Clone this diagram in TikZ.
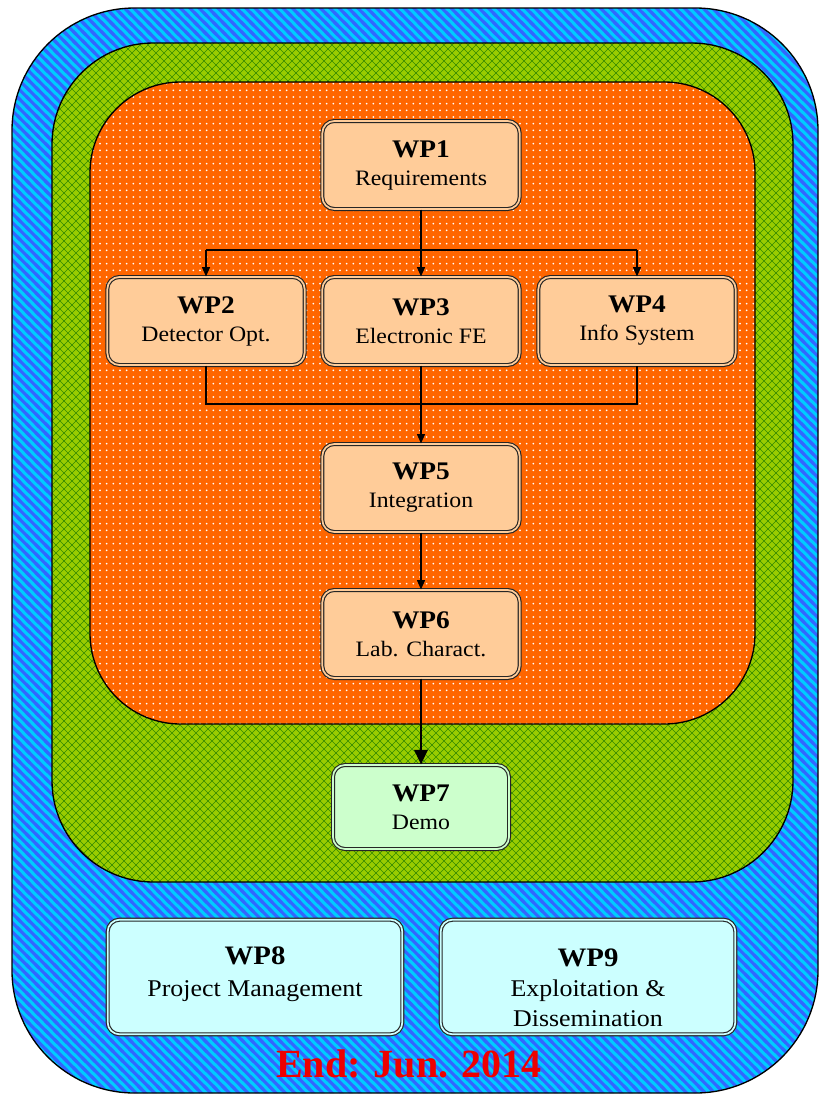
\documentclass[tikz,border=0pt]{standalone}
\usepackage{fontspec}
\setmainfont{Liberation Serif}
\newfontfamily\wpfont[FakeStretch=1.08]{Liberation Serif}
\usetikzlibrary{patterns,arrows.meta,shadows}
\pgfdeclarepatternformonly{mystripes}{\pgfqpoint{-2pt}{-2pt}}{\pgfqpoint{9pt}{9pt}}{\pgfqpoint{7pt}{7pt}}{\pgfsetlinewidth{2.3pt}\pgfpathmoveto{\pgfqpoint{-1.5pt}{8.5pt}}\pgfpathlineto{\pgfqpoint{8.5pt}{-1.5pt}}\pgfusepath{stroke}}
\pgfdeclarepatternformonly{mycross}{\pgfqpoint{-1pt}{-1pt}}{\pgfqpoint{7pt}{7pt}}{\pgfqpoint{6pt}{6pt}}{\pgfsetlinewidth{0.5pt}\pgfpathmoveto{\pgfqpoint{-0.1pt}{-0.1pt}}\pgfpathlineto{\pgfqpoint{6.1pt}{6.1pt}}\pgfpathmoveto{\pgfqpoint{-0.1pt}{6.1pt}}\pgfpathlineto{\pgfqpoint{6.1pt}{-0.1pt}}\pgfusepath{stroke}}
\pgfdeclarepatternformonly{mydots}{\pgfqpoint{-1pt}{-1pt}}{\pgfqpoint{1pt}{1pt}}{\pgfqpoint{5pt}{5pt}}{\pgfpathcircle{\pgfpointorigin}{0.7pt}\pgfusepath{fill}}
\definecolor{bluebase}{HTML}{00CCFF}
\definecolor{bluestripe}{HTML}{3366FF}
\definecolor{greenbase}{HTML}{99CC00}
\definecolor{greenline}{HTML}{338800}
\definecolor{orangebase}{HTML}{FF6600}
\definecolor{peach}{HTML}{FFCC99}
\definecolor{mint}{HTML}{CCFFCC}
\definecolor{ice}{HTML}{CCFFFF}
\definecolor{endred}{HTML}{EE0000}
\tikzset{
  wpbox/.style={rounded corners=9pt, draw=black!85, line width=0.85pt, double distance=1.3pt,
    align=center, inner sep=2pt, drop shadow={shadow xshift=1pt, shadow yshift=-1pt, opacity=0.35}},
  wpsmall/.style={wpbox, double=peach, fill=peach, minimum width=148pt, minimum height=66pt,
    font=\wpfont\fontsize{16.5pt}{21pt}\selectfont},
  wpbig/.style={wpbox, double=ice, fill=ice, minimum width=221pt, minimum height=86pt},
  conn/.style={line width=0.9pt, black},
  arr/.style={conn, -{Triangle[length=7pt,width=6pt]}},
  bigarr/.style={line width=1.8pt, -{Triangle[length=11pt,width=10pt]}},
  region/.style={draw=black, line width=1pt}
}
\newcommand{\wpt}[2]{{\fontsize{19pt}{21pt}\selectfont\bfseries #1}\\#2}
\newcommand{\wptitle}[1]{\rule{0pt}{29pt}{\fontsize{20pt}{24pt}\selectfont\bfseries #1}}
\begin{document}
\begin{tikzpicture}[x=0.75pt,y=-0.75pt]
\useasboundingbox (0,0) rectangle (819,1097);
% blue region
\fill[bluebase, rounded corners=92pt] (12,8) rectangle (818,1093);
\fill[pattern=mystripes, pattern color=bluestripe, rounded corners=92pt] (12,8) rectangle (818,1093);
\draw[region, rounded corners=92pt] (12,8) rectangle (818,1093);
% green region
\fill[greenbase, rounded corners=76pt] (52,43) rectangle (793,882);
\fill[pattern=mycross, pattern color=greenline, rounded corners=76pt] (52,43) rectangle (793,882);
\draw[region, rounded corners=76pt] (52,43) rectangle (793,882);
% orange region
\fill[orangebase, rounded corners=68pt] (90,82) rectangle (755,724);
\fill[pattern=mydots, pattern color=white, rounded corners=68pt] (90,82) rectangle (755,724);
\draw[region, rounded corners=68pt] (90,82) rectangle (755,724);

% boxes
\node[wpsmall] (wp1) at (421,165) {\wpt{WP1}{Requirements}};
\node[wpsmall] (wp2) at (206,321) {\wpt{WP2}{Detector Opt.}};
\node[wpsmall] (wp3) at (421,321) {\wpt{WP3}{Electronic FE}};
\node[wpsmall] (wp4) at (637,321) {\wpt{WP4}{Info System}};
\node[wpsmall] (wp5) at (421,488) {\wpt{WP5}{Integration}};
\node[wpsmall] (wp6) at (421,634) {\wpt{WP6}{Lab. Charact.}};
\node[wpsmall, double=mint, fill=mint, minimum width=132pt, minimum height=63pt] (wp7) at (421,807) {\wpt{WP7}{Demo}};
\node[wpbig, font=\wpfont\fontsize{18pt}{24pt}\selectfont] (wp8) at (255,977)
  {\wptitle{WP8}\\Project Management\\\mbox{}};
\node[wpbig, font=\wpfont\fontsize{18pt}{22.5pt}\selectfont] (wp9) at (588,977)
  {\wptitle{WP9}\\Exploitation \&\\Dissemination};

% connectors
\coordinate (s1) at (421,250);
\coordinate (s2) at (206,250);
\coordinate (s4) at (637,250);
\coordinate (m2) at (206,404);
\coordinate (m3) at (421,404);
\coordinate (m4) at (637,404);
\draw[conn] (wp1.south) -- (s1);
\draw[conn] (s2) -- (s4);
\draw[arr] (s2) -- (wp2.north);
\draw[arr] (s1) -- (wp3.north);
\draw[arr] (s4) -- (wp4.north);
\draw[conn] (wp2.south) -- (m2) -- (m4) -- (wp4.south);
\draw[arr] (wp3.south) -- (wp5.north);
\draw[arr] (wp5.south) -- (wp6.north);
\draw[bigarr] (wp6.south) -- (wp7.north);

% end date
\node[text=endred, font=\fontsize{30pt}{34pt}\selectfont\bfseries] (enddate) at (409,1064) {End: Jun. 2014};
\end{tikzpicture}
\end{document}
